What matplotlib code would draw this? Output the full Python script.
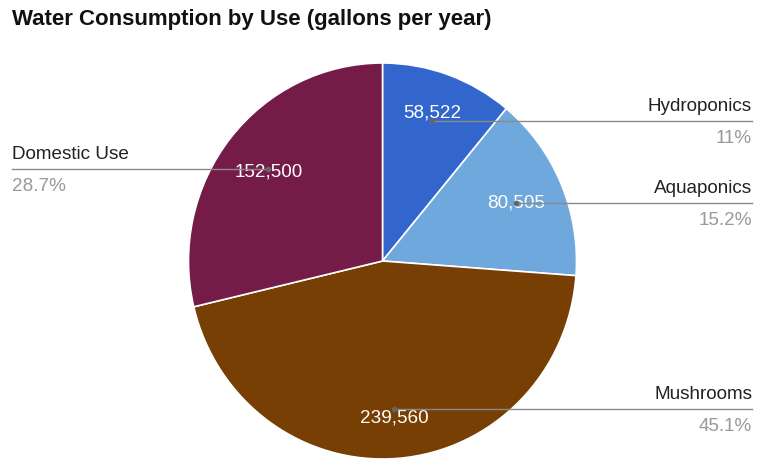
import numpy as np
import matplotlib
matplotlib.use("Agg")
import matplotlib.pyplot as plt

plt.rcParams['font.family'] = ['Liberation Sans', 'DejaVu Sans']

# water use per category, gallons per year
categories = ['Hydroponics', 'Aquaponics', 'Mushrooms', 'Domestic Use']
gallons = [58522, 80505, 239560, 152500]
colors = ['#3366cc', '#6fa8dc', '#783f04', '#741b47']
label_side = ['right', 'right', 'right', 'left']
# vertical nudge of the value text relative to the leader dot (pixels, + is up)
value_dy = [8, 0, -9, -3]

W, H = 757, 461
fig = plt.figure(figsize=(W / 100, H / 100), dpi=100)
ax = fig.add_axes([0, 0, 1, 1])

# pie centre and radii in pixels (slightly taller than wide)
cx, cy, rx, ry = 382.5, 261, 194, 198


def pix(x, y):
    """pixel position (from top-left) -> data coords of the unit pie"""
    return (x - cx) / rx, (cy - y) / ry


wedges, _ = ax.pie(gallons, colors=colors, startangle=90, counterclock=False,
                   center=(0, 0), radius=1,
                   wedgeprops=dict(edgecolor='white', linewidth=1.2))
x0, y0 = pix(0, H)
x1, y1 = pix(W, 0)
ax.set_xlim(x0, x1)
ax.set_ylim(y0, y1)
ax.set_aspect('auto')
ax.axis('off')

fs = 13.6
total = sum(gallons)
for w, name, val, side, dy in zip(wedges, categories, gallons, label_side, value_dy):
    mid = np.deg2rad((w.theta1 + w.theta2) / 2)
    px = 0.75 * np.cos(mid)
    py = 0.75 * np.sin(mid)
    pct = 100 * val / total
    pct_txt = f'{pct:.0f}%' if abs(pct - round(pct)) < 0.05 else f'{pct:.1f}%'

    if side == 'right':
        ex, _ = pix(752, 0)
        ha = 'right'
    else:
        ex, _ = pix(12, 0)
        ha = 'left'
    # value text sits under the leader line
    ax.text(px, py + dy / ry, f'{val:,}', ha='center', va='center',
            fontsize=fs, color='white', zorder=3)
    ax.plot([px, ex], [py, py], color='#8a8a8a', lw=1, zorder=4)
    ax.plot(px, py, 'o', color='#666666', ms=3, zorder=5)
    ax.text(ex, py + 10 / ry, name, ha=ha, va='baseline', fontsize=fs,
            color='#222222')
    ax.text(ex, py - 22 / ry, pct_txt, ha=ha, va='baseline', fontsize=fs,
            color='#999999')

fig.text(12 / W, 1 - 19 / H, 'Water Consumption by Use (gallons per year)',
         ha='left', va='center', fontsize=16, fontweight='bold', color='#111111')

fig.savefig('out.png', dpi=100)
